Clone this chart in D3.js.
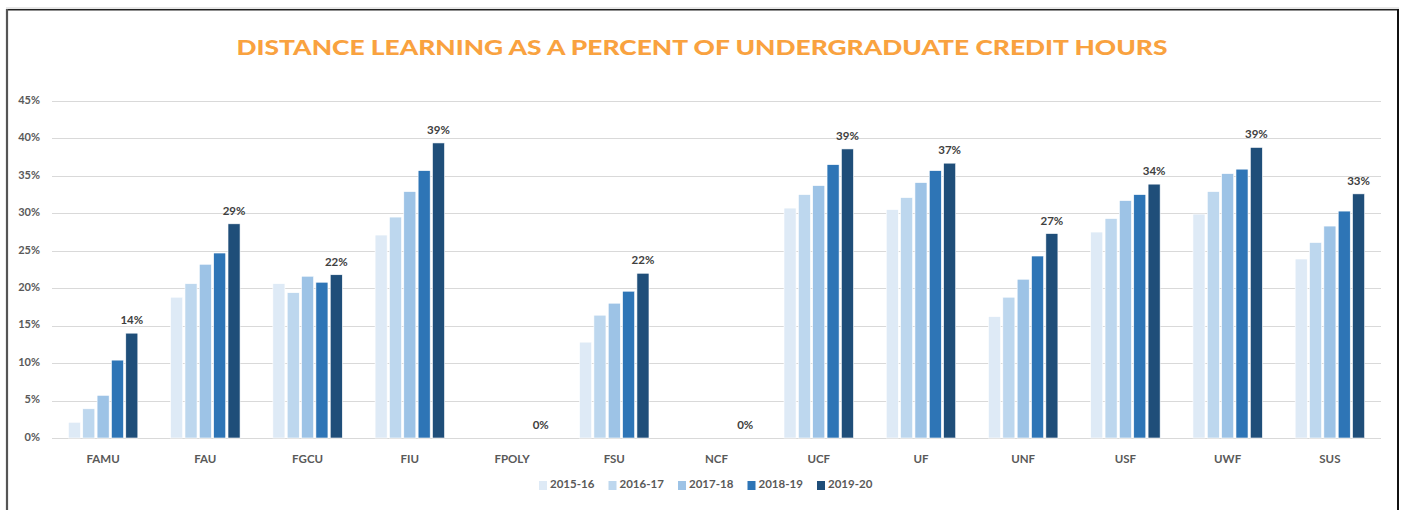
<!DOCTYPE html>
<html>
<head>
<meta charset="utf-8">
<script src="https://cdn.jsdelivr.net/npm/d3@7"></script>
<style>
  html, body { margin: 0; padding: 0; background: #fff; }
  svg { display: block; }
  .tick-label { font-family: Lato, "Open Sans", sans-serif; font-weight: 700; fill: #595959; }
  .bar-label { font-family: Lato, "Open Sans", sans-serif; font-weight: 700; fill: #404040; font-size: 11.5px; }
</style>
</head>
<body>
<svg id="chart"></svg>
<script>
// data
const schools = ["FAMU", "FAU", "FGCU", "FIU", "FPOLY", "FSU", "NCF", "UCF", "UF", "UNF", "USF", "UWF", "SUS"];
const years = ["2015-16", "2016-17", "2017-18", "2018-19", "2019-20"];
const share1516 = [0.021, 0.188, 0.206, 0.271, 0, 0.128, 0, 0.307, 0.305, 0.162, 0.275, 0.299, 0.239];
const share1617 = [0.039, 0.206, 0.194, 0.295, 0, 0.164, 0, 0.325, 0.321, 0.188, 0.293, 0.329, 0.261];
const share1718 = [0.057, 0.232, 0.216, 0.329, 0, 0.180, 0, 0.337, 0.341, 0.212, 0.317, 0.353, 0.283];
const share1819 = [0.104, 0.247, 0.208, 0.357, 0, 0.196, 0, 0.365, 0.357, 0.243, 0.325, 0.359, 0.303];
const share1920 = [0.140, 0.286, 0.218, 0.394, 0, 0.220, 0, 0.386, 0.367, 0.273, 0.339, 0.388, 0.326];
const yTicks = [0, 0.05, 0.10, 0.15, 0.20, 0.25, 0.30, 0.35, 0.40, 0.45];
const colors = ["#deeaf6", "#bdd7ee", "#9dc3e6", "#2e75b6", "#1f4e79"];

const series = [share1516, share1617, share1718, share1819, share1920];
const rows = schools.map((s, i) => ({school: s, values: series.map(v => v[i])}));

const width = 1405, height = 510;
const margin = {top: 101, right: 24, bottom: 72, left: 52};

const svg = d3.select("#chart").attr("width", width).attr("height", height);

// frame
svg.append("line").attr("x1", 6).attr("x2", 1399).attr("y1", 8).attr("y2", 8)
  .attr("stroke", "#d0d0d0").attr("stroke-width", 1);
svg.append("line").attr("x1", 6).attr("x2", 1399).attr("y1", 9.8).attr("y2", 9.8)
  .attr("stroke", "#222").attr("stroke-width", 1.6);
svg.append("line").attr("x1", 7).attr("x2", 7).attr("y1", 9).attr("y2", height)
  .attr("stroke", "#555").attr("stroke-width", 2.2);
svg.append("line").attr("x1", 1398).attr("x2", 1398).attr("y1", 9).attr("y2", height)
  .attr("stroke", "#111").attr("stroke-width", 2);

// title
svg.append("text")
  .attr("x", 702).attr("y", 55)
  .attr("text-anchor", "middle")
  .attr("textLength", 931).attr("lengthAdjust", "spacingAndGlyphs")
  .style("font-family", "Lato, 'Open Sans', sans-serif")
  .style("font-weight", 900)
  .style("font-size", "21px")
  .style("fill", "#f9a23f")
  .text("DISTANCE LEARNING AS A PERCENT OF UNDERGRADUATE CREDIT HOURS");

const x0 = d3.scaleBand()
  .domain(schools)
  .range([margin.left, width - margin.right])
  .paddingInner(0.276)
  .paddingOuter(0.138);

const x1 = d3.scaleBand()
  .domain(years)
  .range([0, x0.bandwidth()])
  .padding(0.16);

const y = d3.scaleLinear()
  .domain([0, 0.45])
  .range([height - margin.bottom, margin.top]);

const color = d3.scaleOrdinal().domain(years).range(colors);

// gridlines
svg.append("g")
  .selectAll("line")
  .data(yTicks)
  .enter().append("line")
  .attr("x1", margin.left).attr("x2", width - margin.right)
  .attr("y1", d => Math.round(y(d)) + 0.5).attr("y2", d => Math.round(y(d)) + 0.5)
  .attr("stroke", "#d9d9d9").attr("stroke-width", 1.2);

// y labels
svg.append("g")
  .selectAll("text")
  .data(yTicks)
  .enter().append("text")
  .attr("class", "tick-label")
  .attr("x", 40).attr("y", d => y(d))
  .attr("text-anchor", "end")
  .attr("dominant-baseline", "middle")
  .style("font-size", "11px")
  .text(d3.format(".0%"));

// bars
const groups = svg.append("g")
  .selectAll("g")
  .data(rows)
  .enter().append("g")
  .attr("transform", d => `translate(${x0(d.school)},0)`);

groups.selectAll("rect")
  .data(d => d.values.map((v, i) => ({year: years[i], value: v})))
  .enter().append("rect")
  .attr("x", d => x1(d.year))
  .attr("width", x1.bandwidth())
  .attr("y", d => y(d.value))
  .attr("height", d => y(0) - y(d.value))
  .attr("fill", d => color(d.year))
  .attr("stroke", "#ffffff")
  .attr("stroke-width", 0.6);

// labels on latest year
groups.append("text")
  .attr("class", "bar-label")
  .attr("x", x1(years[4]) + x1.bandwidth() / 2)
  .attr("y", d => y(d.values[4]) - 9)
  .attr("text-anchor", "middle")
  .text(d => d3.format(".0%")(d.values[4]));

// category labels
svg.append("g")
  .selectAll("text")
  .data(schools)
  .enter().append("text")
  .attr("class", "tick-label")
  .attr("x", d => x0(d) + x0.bandwidth() / 2)
  .attr("y", 463)
  .attr("text-anchor", "middle")
  .style("font-size", "11.5px")
  .text(d => d);

// legend
const legend = svg.append("g")
  .selectAll("g")
  .data(years)
  .enter().append("g")
  .attr("transform", (d, i) => `translate(${539 + i * 69.5},481)`);

legend.append("rect")
  .attr("width", 8).attr("height", 9)
  .attr("fill", d => color(d));

legend.append("text")
  .attr("class", "tick-label")
  .attr("x", 11).attr("y", 4.5)
  .attr("dominant-baseline", "middle")
  .style("font-size", "11.5px")
  .text(d => d);
</script>
</body>
</html>
